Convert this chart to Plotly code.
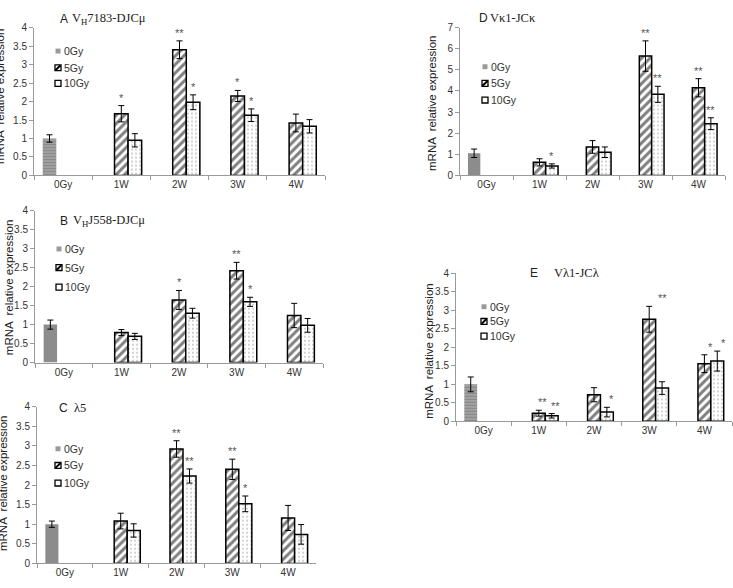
import plotly.graph_objects as go

# ---------------- data ----------------
categories = ["0Gy", "1W", "2W", "3W", "4W"]
series_names = ["0Gy", "5Gy", "10Gy"]

# Panel A  VH7183-DJCmu
a_0gy = [1.00, None, None, None, None]
a_0gy_err = [0.10, None, None, None, None]
a_5gy = [None, 1.67, 3.40, 2.15, 1.42]
a_5gy_err = [None, 0.22, 0.24, 0.15, 0.24]
a_10gy = [None, 0.95, 1.98, 1.63, 1.33]
a_10gy_err = [None, 0.18, 0.20, 0.17, 0.18]
a_stars = [("1W", "5Gy", "*"), ("2W", "5Gy", "**"), ("2W", "10Gy", "*"),
           ("3W", "5Gy", "*"), ("3W", "10Gy", "*")]

# Panel B  VHJ558-DJCmu
b_0gy = [1.00, None, None, None, None]
b_0gy_err = [0.12, None, None, None, None]
b_5gy = [None, 0.79, 1.65, 2.42, 1.24]
b_5gy_err = [None, 0.08, 0.25, 0.22, 0.32]
b_10gy = [None, 0.69, 1.30, 1.60, 0.98]
b_10gy_err = [None, 0.08, 0.13, 0.12, 0.18]
b_stars = [("2W", "5Gy", "*"), ("3W", "5Gy", "**"), ("3W", "10Gy", "*")]

# Panel C  lambda5
c_0gy = [1.00, None, None, None, None]
c_0gy_err = [0.08, None, None, None, None]
c_5gy = [None, 1.08, 2.92, 2.40, 1.16]
c_5gy_err = [None, 0.20, 0.21, 0.26, 0.32]
c_10gy = [None, 0.84, 2.23, 1.52, 0.74]
c_10gy_err = [None, 0.17, 0.18, 0.20, 0.25]
c_stars = [("2W", "5Gy", "**"), ("2W", "10Gy", "**"), ("3W", "5Gy", "**"),
           ("3W", "10Gy", "*")]

# Panel D  Vkappa1-JCkappa
d_0gy = [1.05, None, None, None, None]
d_0gy_err = [0.20, None, None, None, None]
d_5gy = [None, 0.62, 1.35, 5.65, 4.15]
d_5gy_err = [None, 0.17, 0.30, 0.72, 0.43]
d_10gy = [None, 0.45, 1.10, 3.84, 2.45]
d_10gy_err = [None, 0.10, 0.25, 0.38, 0.28]
d_stars = [("1W", "10Gy", "*"), ("3W", "5Gy", "**"), ("3W", "10Gy", "**"),
           ("4W", "5Gy", "**"), ("4W", "10Gy", "**")]

# Panel E  Vlambda1-JClambda
e_0gy = [1.00, None, None, None, None]
e_0gy_err = [0.20, None, None, None, None]
e_5gy = [None, 0.22, 0.72, 2.76, 1.56]
e_5gy_err = [None, 0.08, 0.19, 0.35, 0.24]
e_10gy = [None, 0.15, 0.25, 0.90, 1.63]
e_10gy_err = [None, 0.06, 0.13, 0.17, 0.27]
e_stars = [("1W", "5Gy", "**"), ("1W", "10Gy", "**"), ("2W", "10Gy", "*"),
           ("3W", "5Gy", "**"), ("4W", "5Gy", "*"), ("4W", "10Gy", "*")]

y_title = "mRNA  relative expression"

# ---------------- layout helpers ----------------
W, H = 733, 588
SANS = "Arial, 'Liberation Sans', sans-serif"
SERIF = "'Times New Roman', 'Liberation Serif', serif"
BARGAP = 0.30
SLOT = (1 - BARGAP) / 3.0
OFFS = {"0Gy": -SLOT, "5Gy": 0.0, "10Gy": SLOT}


def fx(p):
    return p / W


def fy(p):
    return 1 - p / H


panels = [
    dict(key="A", data=(a_0gy, a_0gy_err, a_5gy, a_5gy_err, a_10gy, a_10gy_err), stars=a_stars,
         xpx=(34, 325), ypx=(22, 173), yr=4, dt=0.5, striped=True,
         letter=("A", 58, 13), name=("V<sub>H</sub>7183-DJCμ", 70),
         ytitle=(0, 92), legend=(55, [46, 63, 79])),
    dict(key="B", data=(b_0gy, b_0gy_err, b_5gy, b_5gy_err, b_10gy, b_10gy_err), stars=b_stars,
         xpx=(35, 323), ypx=(209, 364), yr=4, dt=0.5, striped=False,
         letter=("B", 58, 219), name=("V<sub>H</sub>J558-DJCμ", 71),
         ytitle=(9, 287), legend=(56, [248, 267, 287])),
    dict(key="C", data=(c_0gy, c_0gy_err, c_5gy, c_5gy_err, c_10gy, c_10gy_err), stars=c_stars,
         xpx=(37, 316), ypx=(409, 569), yr=4, dt=0.5, striped=False,
         letter=("C", 57, 410), name=("λ5", 72),
         ytitle=(3, 487), legend=(55, [452, 469, 487])),
    dict(key="D", data=(d_0gy, d_0gy_err, d_5gy, d_5gy_err, d_10gy, d_10gy_err), stars=d_stars,
         xpx=(460, 725), ypx=(22, 173), yr=7, dt=1, striped=False,
         letter=("D", 477, 12), name=("Vκ1-JCκ", 488),
         ytitle=(432, 99), legend=(482, [62, 79, 96])),
    dict(key="E", data=(e_0gy, e_0gy_err, e_5gy, e_5gy_err, e_10gy, e_10gy_err), stars=e_stars,
         xpx=(456, 732), ypx=(273, 424), yr=4, dt=0.5, striped=True,
         letter=("E", 528, 273), name=("Vλ1-JCλ", 552),
         ytitle=(429, 352), legend=(481, [307, 322, 337])),
]

# small pixel nudges for star labels (reference places some slightly right)
star_nudge = {("E", "1W", "5Gy"): 4, ("E", "1W", "10Gy"): 4, ("E", "2W", "10Gy"): 5,
              ("E", "3W", "5Gy"): 13, ("E", "4W", "5Gy"): 6, ("E", "4W", "10Gy"): 6}

fig = go.Figure()
annotations = []
shapes = []
layout_axes = {}

for i, p in enumerate(panels, start=1):
    xa = "x" if i == 1 else f"x{i}"
    ya = "y" if i == 1 else f"y{i}"
    v0, e0, v5, e5, v10, e10 = p["data"]

    if p["striped"]:
        m0 = dict(color="#8a8a8a", line=dict(width=0),
                  pattern=dict(shape="-", fgcolor="#b4b4b4", bgcolor="#858585",
                               size=3, solidity=0.4, fillmode="replace"))
    else:
        m0 = dict(color="#8c8c8c", line=dict(width=0))
    m5 = dict(color="white", line=dict(color="black", width=1.5),
              pattern=dict(shape="/", fgcolor="black", bgcolor="white", size=6, solidity=0.5))
    m10 = dict(color="white", line=dict(color="black", width=1.5),
               pattern=dict(shape=".", fgcolor="#8a8a8a", bgcolor="white", size=4, solidity=0.2))

    for name, vals, errs, mk in (("0Gy", v0, e0, m0), ("5Gy", v5, e5, m5), ("10Gy", v10, e10, m10)):
        fig.add_trace(go.Bar(
            x=categories, y=vals, name=name, marker=mk, showlegend=False,
            error_y=dict(type="data", array=errs, visible=True, color="black",
                         thickness=1, width=3),
            xaxis=xa, yaxis=ya, hoverinfo="skip"))

    xk = "xaxis" if i == 1 else f"xaxis{i}"
    yk = "yaxis" if i == 1 else f"yaxis{i}"
    layout_axes[xk] = dict(
        domain=[fx(p["xpx"][0]), fx(p["xpx"][1])], anchor=ya, type="category",
        categoryorder="array", categoryarray=categories,
        showline=True, linecolor="#9a9a9a", linewidth=1,
        ticks="outside", tickson="boundaries", ticklen=4, tickcolor="#9a9a9a",
        tickfont=dict(family=SANS, size=10, color="#333"), showgrid=False,
        fixedrange=True)
    layout_axes[yk] = dict(
        domain=[fy(p["ypx"][1]), fy(p["ypx"][0])], anchor=xa,
        range=[0, p["yr"]], dtick=p["dt"], tick0=0,
        showline=True, linecolor="#9a9a9a", linewidth=1,
        ticks="outside", ticklen=4, tickcolor="#9a9a9a",
        tickfont=dict(family=SANS, size=10, color="#333"),
        showgrid=False, zeroline=False, fixedrange=True)

    # panel titles
    L, lx, ly = p["letter"]
    annotations.append(dict(text=L, xref="paper", yref="paper", x=fx(lx), y=fy(ly),
                            xanchor="left", yanchor="middle", showarrow=False,
                            font=dict(family=SANS, size=12, color="#222")))
    nm, nx = p["name"]
    annotations.append(dict(text=nm, xref="paper", yref="paper", x=fx(nx), y=fy(ly),
                            xanchor="left", yanchor="middle", showarrow=False,
                            font=dict(family=SERIF, size=12.5, color="#222")))
    # y-axis title
    tx, ty = p["ytitle"]
    annotations.append(dict(text=y_title, xref="paper", yref="paper", x=fx(tx), y=fy(ty),
                            xanchor="center", yanchor="middle", textangle=-90, showarrow=False,
                            font=dict(family=SANS, size=11.5, color="#222")))

    # legend (drawn in panel)
    lgx, rows = p["legend"]
    for sname, ry in zip(series_names, rows):
        if sname == "0Gy":
            shapes.append(dict(type="rect", xref="paper", yref="paper",
                               x0=fx(lgx + 0.5), x1=fx(lgx + 5.5), y0=fy(ry + 2.5), y1=fy(ry - 2.5),
                               fillcolor="#9a9a9a", line=dict(width=0)))
        else:
            shapes.append(dict(type="rect", xref="paper", yref="paper",
                               x0=fx(lgx), x1=fx(lgx + 6), y0=fy(ry + 3), y1=fy(ry - 3),
                               fillcolor="white", line=dict(color="black", width=1.3)))
            if sname == "5Gy":
                shapes.append(dict(type="line", xref="paper", yref="paper",
                                   x0=fx(lgx + 0.5), x1=fx(lgx + 5.5), y0=fy(ry + 2.5), y1=fy(ry - 2.5),
                                   line=dict(color="black", width=2)))
        annotations.append(dict(text=sname, xref="paper", yref="paper", x=fx(lgx + 7), y=fy(ry),
                                xanchor="left", yanchor="middle", showarrow=False,
                                font=dict(family=SANS, size=10.5, color="#333")))

    # significance stars
    lookup = {"0Gy": (v0, e0), "5Gy": (v5, e5), "10Gy": (v10, e10)}
    for cat, sname, txt in p["stars"]:
        ci = categories.index(cat)
        vals, errs = lookup[sname]
        top = vals[ci] + errs[ci]
        annotations.append(dict(text=txt, xref=xa, yref=ya, x=ci + OFFS[sname], y=top,
                                xanchor="center", yanchor="bottom", showarrow=False,
                                xshift=star_nudge.get((p["key"], cat, sname), 0), yshift=0,
                                font=dict(family=SANS, size=11, color="#555")))

fig.update_layout(
    width=W, height=H, margin=dict(l=0, r=0, t=0, b=0),
    paper_bgcolor="white", plot_bgcolor="white",
    barmode="group", bargap=BARGAP, bargroupgap=0,
    showlegend=False, annotations=annotations, shapes=shapes,
    **layout_axes)

fig.write_html("out.html", config={"displayModeBar": False},
               post_script="document.body.style.margin='0';")
